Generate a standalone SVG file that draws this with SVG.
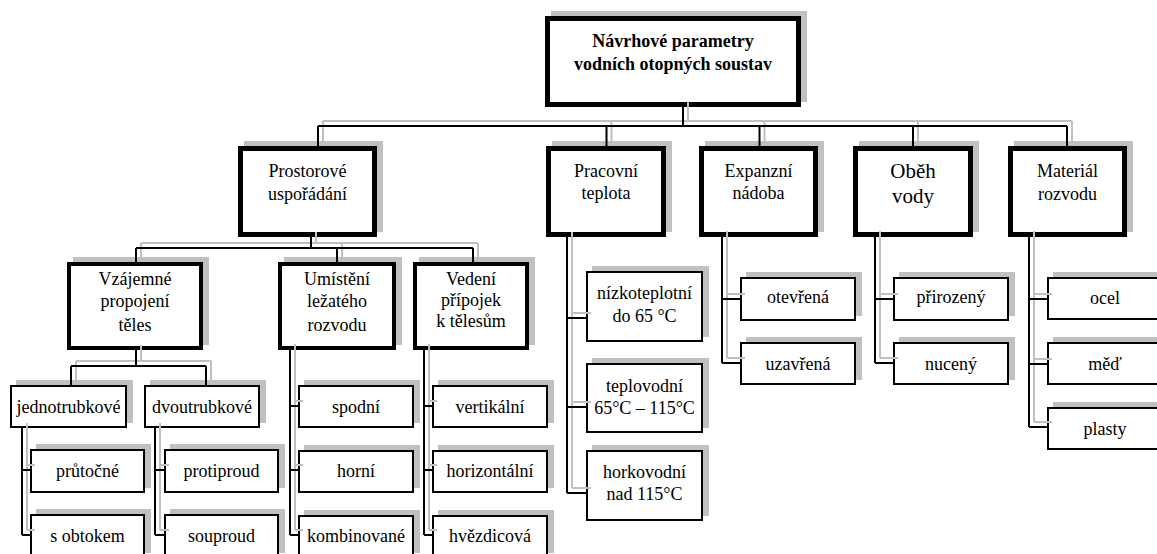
<svg xmlns="http://www.w3.org/2000/svg" width="1157" height="554" viewBox="0 0 1157 554">
<style>
.sh{fill:#c0c0c0}
.b1{fill:#fff;stroke:#000;stroke-width:5}
.b2{fill:#fff;stroke:#000;stroke-width:4}
.b3{fill:#fff;stroke:#000;stroke-width:2}
text{font-family:"Liberation Serif","Times New Roman",serif;font-size:18px;fill:#000;text-anchor:middle}
.bold{font-weight:bold}
.big{font-size:21px}
.cn path{fill:none;stroke-width:2}
</style>
<rect width="1157" height="554" fill="#fff"/>
<g id="root"><rect class="sh" x="551" y="11" width="256" height="91"/><rect class="b1" x="547.5" y="18.5" width="251" height="86"/><text class="bold" x="673" y="47">Návrhové parametry</text><text class="bold" x="673" y="70">vodních otopných soustav</text></g>
<g id="prostorove"><rect class="sh" x="244" y="141" width="139" height="91"/><rect class="b1" x="240.5" y="148.5" width="134" height="86"/><text x="307.5" y="177">Prostorové</text><text x="307.5" y="200">uspořádání</text></g>
<g id="pracovni"><rect class="sh" x="552" y="141" width="120" height="91"/><rect class="b1" x="548.5" y="148.5" width="115" height="86"/><text x="606" y="177">Pracovní</text><text x="606" y="199">teplota</text></g>
<g id="expanzni"><rect class="sh" x="705" y="141" width="119" height="91"/><rect class="b1" x="701.5" y="148.5" width="114" height="86"/><text x="758.5" y="177">Expanzní</text><text x="758.5" y="199">nádoba</text></g>
<g id="obeh"><rect class="sh" x="859" y="141" width="120" height="91"/><rect class="b1" x="855.5" y="148.5" width="115" height="86"/><text class="big" x="913" y="178">Oběh</text><text class="big" x="913" y="203">vody</text></g>
<g id="material"><rect class="sh" x="1014" y="141" width="119" height="91"/><rect class="b1" x="1010.5" y="148.5" width="114" height="86"/><text x="1067.5" y="177">Materiál</text><text x="1067.5" y="200">rozvodu</text></g>
<g id="vzajemne"><rect class="sh" x="73" y="257" width="136" height="88"/><rect class="b2" x="69" y="264" width="132" height="84"/><text x="135" y="285">Vzájemné</text><text x="135" y="307">propojení</text><text x="135" y="331">těles</text></g>
<g id="umisteni"><rect class="sh" x="284" y="257" width="118" height="88"/><rect class="b2" x="280" y="264" width="114" height="84"/><text x="337" y="285">Umístění</text><text x="337" y="307">ležatého</text><text x="337" y="331">rozvodu</text></g>
<g id="vedeni"><rect class="sh" x="419" y="257" width="116" height="88"/><rect class="b2" x="415" y="264" width="112" height="84"/><text x="471" y="285">Vedení</text><text x="471" y="306">přípojek</text><text x="471" y="327">k tělesům</text></g>
<g id="jednotrubkove"><rect class="sh" x="16" y="380" width="117" height="43"/><rect class="b3" x="11" y="386" width="115" height="41"/><text x="68.5" y="413">jednotrubkové</text></g>
<g id="dvoutrubkove"><rect class="sh" x="150" y="380" width="116" height="43"/><rect class="b3" x="145" y="386" width="114" height="41"/><text x="202" y="413">dvoutrubkové</text></g>
<g id="prutocne"><rect class="sh" x="36" y="444" width="115" height="44"/><rect class="b3" x="31" y="450" width="113" height="42"/><text x="87.5" y="477">průtočné</text></g>
<g id="sobtokem"><rect class="sh" x="36" y="509" width="115" height="44"/><rect class="b3" x="31" y="515" width="113" height="42"/><text x="87.5" y="542">s obtokem</text></g>
<g id="protiproud"><rect class="sh" x="170" y="444" width="115" height="44"/><rect class="b3" x="165" y="450" width="113" height="42"/><text x="221.5" y="477">protiproud</text></g>
<g id="souproud"><rect class="sh" x="170" y="509" width="115" height="44"/><rect class="b3" x="165" y="515" width="113" height="42"/><text x="221.5" y="542">souproud</text></g>
<g id="spodni"><rect class="sh" x="304" y="380" width="116" height="43"/><rect class="b3" x="299" y="386" width="114" height="41"/><text x="356" y="413">spodní</text></g>
<g id="horni"><rect class="sh" x="304" y="445" width="116" height="43"/><rect class="b3" x="299" y="451" width="114" height="41"/><text x="356" y="477">horní</text></g>
<g id="kombinovane"><rect class="sh" x="304" y="510" width="116" height="43"/><rect class="b3" x="299" y="516" width="114" height="41"/><text x="356" y="542">kombinované</text></g>
<g id="vertikalni"><rect class="sh" x="438" y="380" width="116" height="43"/><rect class="b3" x="433" y="386" width="114" height="41"/><text x="490" y="413">vertikální</text></g>
<g id="horizontalni"><rect class="sh" x="438" y="445" width="116" height="43"/><rect class="b3" x="433" y="451" width="114" height="41"/><text x="490" y="477">horizontální</text></g>
<g id="hvezdicova"><rect class="sh" x="438" y="510" width="116" height="43"/><rect class="b3" x="433" y="516" width="114" height="41"/><text x="490" y="542">hvězdicová</text></g>
<g id="nizkoteplotni"><rect class="sh" x="592" y="266" width="117" height="71"/><rect class="b3" x="587" y="272" width="115" height="69"/><text x="644.5" y="299">nízkoteplotní</text><text x="644.5" y="322">do 65 °C</text></g>
<g id="teplovodni"><rect class="sh" x="592" y="358" width="117" height="70"/><rect class="b3" x="587" y="364" width="115" height="68"/><text x="644.5" y="392">teplovodní</text><text x="644.5" y="414">65°C – 115°C</text></g>
<g id="horkovodni"><rect class="sh" x="592" y="445" width="117" height="71"/><rect class="b3" x="587" y="451" width="115" height="69"/><text x="644.5" y="478">horkovodní</text><text x="644.5" y="500">nad 115°C</text></g>
<g id="otevrena"><rect class="sh" x="746" y="272" width="116" height="44"/><rect class="b3" x="741" y="278" width="114" height="42"/><text x="798" y="303">otevřená</text></g>
<g id="uzavrena"><rect class="sh" x="746" y="337" width="116" height="43"/><rect class="b3" x="741" y="343" width="114" height="41"/><text x="798" y="370">uzavřená</text></g>
<g id="prirozeny"><rect class="sh" x="899" y="272" width="116" height="44"/><rect class="b3" x="894" y="278" width="114" height="42"/><text x="951" y="303">přirozený</text></g>
<g id="nuceny"><rect class="sh" x="899" y="337" width="116" height="43"/><rect class="b3" x="894" y="343" width="114" height="41"/><text x="951" y="370">nucený</text></g>
<g id="ocel"><rect class="sh" x="1053" y="272" width="116" height="43"/><rect class="b3" x="1048" y="278" width="114" height="41"/><text x="1105" y="304">ocel</text></g>
<g id="med"><rect class="sh" x="1053" y="337" width="116" height="43"/><rect class="b3" x="1048" y="343" width="114" height="41"/><text x="1105" y="370">měď</text></g>
<g id="plasty"><rect class="sh" x="1053" y="402" width="116" height="43"/><rect class="b3" x="1048" y="408" width="114" height="41"/><text x="1105" y="435">plasty</text></g>
<defs>
<path id="conn" d="M683 107V126M318 126H1067M318 126V146M606.5 126V146M759.5 126V146M913 126V146M1067 126V146M311 237V248M136 248H473M136 248V262M337 248V262M473 248V262M136 350V366M71 366H206M71 366V385M206 366V385M22 428V535M22 470H30M22 535H30M155 428V535M155 470H164M155 535H164M290 349V535M290 406H298M290 470H298M290 535H298M424 349V535M424 406H432M424 470H432M424 535H432M567 237V493M567 318H586M567 407H586M567 493H586M722 236V363M722 299H740M722 363H740M875 236V363M875 299H893M875 363H893M1029 236V427M1029 299H1047M1029 364H1047M1029 427H1047"/>
</defs>
<g id="connectors" class="cn">
<use href="#conn" transform="translate(5,-5)" stroke="#c0c0c0" fill="none" stroke-width="2"/>
<use href="#conn" stroke="#000" fill="none" stroke-width="2"/>
</g>
</svg>
